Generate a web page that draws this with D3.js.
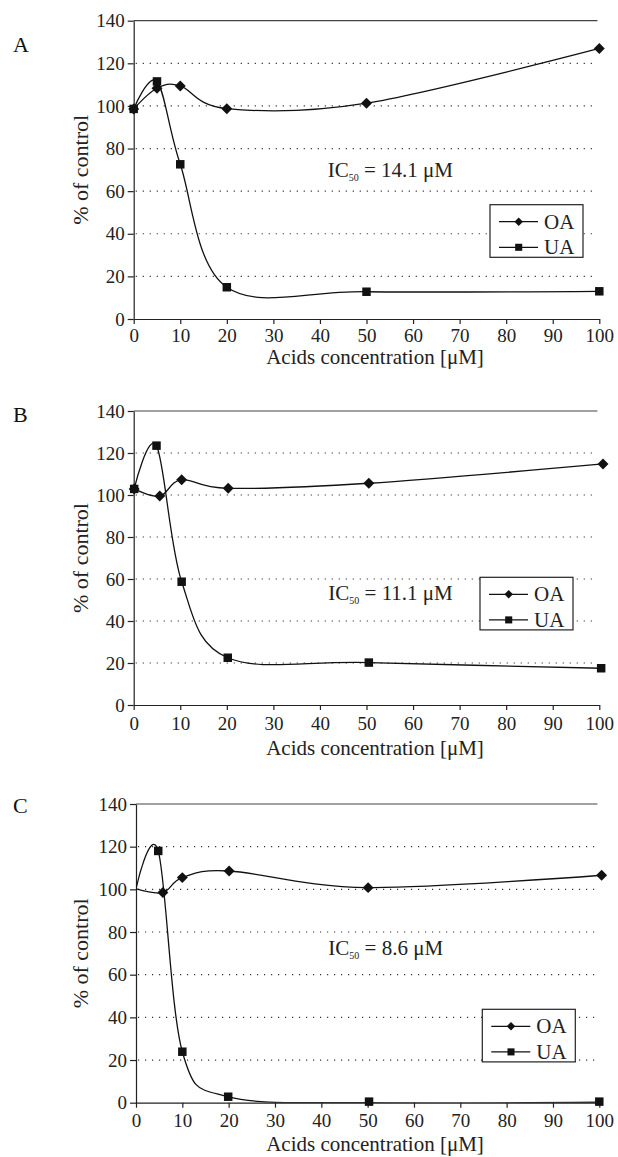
<!DOCTYPE html>
<html>
<head>
<meta charset="utf-8">
<script src="https://cdn.jsdelivr.net/npm/d3@7"></script>
<style>
  body { margin: 0; background: #fff; }
  svg { display: block; font-family: "Liberation Serif", "Times New Roman", serif; }
  .axis text { font-size: 19px; fill: #222; font-family: "Liberation Serif", "Times New Roman", serif; }
  .axis path, .axis line { stroke: #222; stroke-width: 1.2; }
</style>
</head>
<body>
<div id="chart"></div>
<script>

// Tick labels
var xTicks = [0, 10, 20, 30, 40, 50, 60, 70, 80, 90, 100];
var yTicks = [0, 20, 40, 60, 80, 100, 120, 140];
var gridValues = [20, 40, 60, 80, 100, 120];
var seriesNames = ["OA", "UA"];

// Panel A
var aOAx = [0, 5, 10, 20, 50, 100];
var aOAy = [98.6, 108.3, 109.4, 98.7, 101.3, 127];
var aUAx = [0, 5, 10, 20, 50, 100];
var aUAy = [98.6, 111.5, 72.6, 14.9, 12.8, 13];

// Panel B
var bOAx = [0.1, 5.6, 10.3, 20.3, 50.5, 100.8];
var bOAy = [102.9, 99.5, 107.3, 103.2, 105.6, 114.8];
var bUAx = [0.1, 4.9, 10.3, 20.2, 50.5, 100.4];
var bUAy = [102.9, 123.5, 58.7, 22.5, 20.2, 17.5];

// Panel C
var cOAx = [0, 5.8, 10, 20.1, 50.1, 100.5];
var cOAy = [100.2, 98.5, 105.5, 108.6, 100.8, 106.6];
var cUAx = [0, 4.8, 10, 19.9, 50.3, 100];
var cUAy = [100.2, 118, 23.9, 2.8, 0, 0.2];

var ic50Labels = ["14.1", "11.1", "8.6"];
var panelLetters = ["A", "B", "C"];

var width = 618, height = 1157;

function zip(xs, ys) {
	return xs.map(function(x, i) { return {x: x, y: ys[i]}; });
}

// layout of each panel (pixels)
var panels = [
	{ letter: panelLetters[0], ic: ic50Labels[0], x0: 133.7, x1: 599.3, yTop: 20.7, yBot: 319,
	  oa: zip(aOAx, aOAy), ua: zip(aUAx, aUAy), markerFrom: 0, titleOff: 45, tickPad: 5,
	  legend: [490, 204.7], icPos: [327.7, 176.7], letterY: 52 },
	{ letter: panelLetters[1], ic: ic50Labels[1], x0: 133.7, x1: 599.3, yTop: 411, yBot: 705,
	  oa: zip(bOAx, bOAy), ua: zip(bUAx, bUAy), markerFrom: 0, titleOff: 50, tickPad: 7,
	  legend: [480, 577.3], icPos: [328.3, 600], letterY: 421.7 },
	{ letter: panelLetters[2], ic: ic50Labels[2], x0: 136, x1: 599.3, yTop: 804, yBot: 1102.7,
	  oa: zip(cOAx, cOAy), ua: zip(cUAx, cUAy), markerFrom: 1, titleOff: 48, tickPad: 6,
	  legend: [482.3, 1009.3], icPos: [328.3, 955], letterY: 813.3 }
];

var svg = d3.select("#chart").append("svg")
	.attr("width", width)
	.attr("height", height);

var diamond = d3.symbol().type(d3.symbolSquare).size(60);
var square = d3.symbol().type(d3.symbolSquare).size(72);
var diamondSmall = d3.symbol().type(d3.symbolSquare).size(36);
var squareSmall = d3.symbol().type(d3.symbolSquare).size(50);

function translation(x, y) {
	return "translate(" + x + "," + y + ")";
}

panels.forEach(function(p, i) {

	var x = d3.scaleLinear().domain([0, 100]).range([p.x0, p.x1]);
	var y = d3.scaleLinear().domain([0, 140]).range([p.yBot, p.yTop]);

	var g = svg.append("g");

	// Panel letter
	g.append("text")
		.attr("x", 13)
		.attr("y", p.letterY)
		.style("font-size", "22px")
		.style("fill", "#111")
		.text(p.letter);

	// Dotted grid lines
	g.selectAll(".grid")
		.data(gridValues)
		.enter().append("line")
		.attr("x1", x(0) + 2)
		.attr("x2", x(99))
		.attr("y1", function(d) { return y(d); })
		.attr("y2", function(d) { return y(d); })
		.style("stroke", "#333")
		.style("stroke-width", 1.2)
		.style("stroke-dasharray", "1.2,5.8");

	// Solid line at the top
	g.append("line")
		.attr("x1", x(0))
		.attr("x2", x(99.6))
		.attr("y1", y(140))
		.attr("y2", y(140))
		.style("stroke", "#444")
		.style("stroke-width", 1.2);

	// Axes
	g.append("g")
		.attr("class", "axis")
		.attr("transform", translation(x(0), 0))
		.call(d3.axisLeft(y).tickValues(yTicks).tickSize(6).tickSizeOuter(0).tickPadding(3));

	g.append("g")
		.attr("class", "axis")
		.attr("transform", translation(0, y(0)))
		.call(d3.axisBottom(x).tickValues(xTicks).tickSize(5).tickSizeOuter(0).tickPadding(p.tickPad));

	// Axis titles
	g.append("text")
		.attr("x", 375)
		.attr("y", p.yBot + p.titleOff)
		.attr("text-anchor", "middle")
		.style("font-size", "21px")
		.style("fill", "#222")
		.text("Acids concentration [\u03bcM]");

	g.append("text")
		.attr("transform", translation(88, (p.yTop + p.yBot) / 2) + " rotate(-90)")
		.attr("text-anchor", "middle")
		.style("font-size", "22px")
		.style("fill", "#222")
		.text("% of control");

	// Clip to the plot area
	var clipId = "clip" + i;
	svg.append("clipPath")
		.attr("id", clipId)
		.append("rect")
		.attr("x", x(0))
		.attr("y", y(140))
		.attr("width", x(100) - x(0) + 10)
		.attr("height", y(0) - y(140));

	var line = d3.line()
		.x(function(d) { return x(d.x); })
		.y(function(d) { return y(d.y); })
		.curve(d3.curveCardinal.tension(0));

	[p.oa, p.ua].forEach(function(series) {
		g.append("path")
			.datum(series)
			.attr("clip-path", "url(#" + clipId + ")")
			.attr("d", line)
			.style("fill", "none")
			.style("stroke", "#111")
			.style("stroke-width", 1.3);
	});

	// Markers
	g.selectAll(".oa")
		.data(p.oa.slice(p.markerFrom))
		.enter().append("path")
		.attr("d", diamond)
		.attr("transform", function(d) { return translation(x(d.x), y(d.y)) + " rotate(45)"; })
		.style("fill", "#111");

	g.selectAll(".ua")
		.data(p.ua.slice(p.markerFrom))
		.enter().append("path")
		.attr("d", square)
		.attr("transform", function(d) { return translation(x(d.x), y(Math.max(d.y, 0.5))); })
		.style("fill", "#111");

	// IC50 label
	var ic = g.append("text")
		.attr("x", p.icPos[0])
		.attr("y", p.icPos[1])
		.style("font-size", "21px")
		.style("fill", "#222");
	ic.append("tspan").text("IC");
	ic.append("tspan").attr("dy", 4).style("font-size", "10px").text("50");
	ic.append("tspan").attr("dy", -4).text(" = " + p.ic + " \u03bcM");

	// Legend
	var lg = g.append("g").attr("transform", translation(p.legend[0], p.legend[1]));
	lg.append("rect")
		.attr("width", 93)
		.attr("height", 52.6)
		.style("fill", "#fff")
		.style("stroke", "#222")
		.style("stroke-width", 1.2);

	seriesNames.forEach(function(name, k) {
		var cy = 17 + k * 25.6;
		lg.append("line")
			.attr("x1", 9).attr("x2", 48)
			.attr("y1", cy).attr("y2", cy)
			.style("stroke", "#111")
			.style("stroke-width", 1.3);
		lg.append("path")
			.attr("d", k === 0 ? diamondSmall : squareSmall)
			.attr("transform", translation(28.7, cy) + (k === 0 ? " rotate(45)" : ""))
			.style("fill", "#111");
		lg.append("text")
			.attr("x", 54)
			.attr("y", cy + 7)
			.style("font-size", "21px")
			.style("fill", "#222")
			.text(name);
	});
});

</script>
</body>
</html>
